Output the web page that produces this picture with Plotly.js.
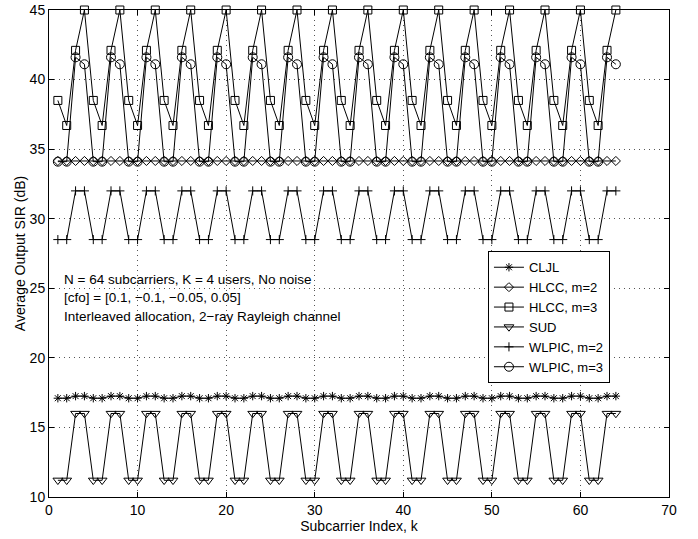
<!DOCTYPE html>
<html>
<head>
<meta charset="utf-8">
<script src="https://cdn.plot.ly/plotly-3.0.1.min.js"></script>
<style>
  html, body { margin: 0; padding: 0; background: #fff; }
  #chart { width: 698px; height: 539px; }
</style>
</head>
<body>
<div id="chart"></div>
<script>
// Subcarrier index
const subcarrier = [
  1, 2, 3, 4, 5, 6, 7, 8, 9, 10, 11, 12, 13, 14, 15, 16,
  17, 18, 19, 20, 21, 22, 23, 24, 25, 26, 27, 28, 29, 30, 31, 32,
  33, 34, 35, 36, 37, 38, 39, 40, 41, 42, 43, 44, 45, 46, 47, 48,
  49, 50, 51, 52, 53, 54, 55, 56, 57, 58, 59, 60, 61, 62, 63, 64
];

const cljl = [
  17.1, 17.1, 17.25, 17.25, 17.1, 17.1, 17.25, 17.25, 17.1, 17.1, 17.25, 17.25, 17.1, 17.1, 17.25, 17.25,
  17.1, 17.1, 17.25, 17.25, 17.1, 17.1, 17.25, 17.25, 17.1, 17.1, 17.25, 17.25, 17.1, 17.1, 17.25, 17.25,
  17.1, 17.1, 17.25, 17.25, 17.1, 17.1, 17.25, 17.25, 17.1, 17.1, 17.25, 17.25, 17.1, 17.1, 17.25, 17.25,
  17.1, 17.1, 17.25, 17.25, 17.1, 17.1, 17.25, 17.25, 17.1, 17.1, 17.25, 17.25, 17.1, 17.1, 17.25, 17.25
];

const hlccM2 = [
  34.15, 34.15, 34.15, 34.15, 34.15, 34.15, 34.15, 34.15, 34.15, 34.15, 34.15, 34.15, 34.15, 34.15, 34.15, 34.15,
  34.15, 34.15, 34.15, 34.15, 34.15, 34.15, 34.15, 34.15, 34.15, 34.15, 34.15, 34.15, 34.15, 34.15, 34.15, 34.15,
  34.15, 34.15, 34.15, 34.15, 34.15, 34.15, 34.15, 34.15, 34.15, 34.15, 34.15, 34.15, 34.15, 34.15, 34.15, 34.15,
  34.15, 34.15, 34.15, 34.15, 34.15, 34.15, 34.15, 34.15, 34.15, 34.15, 34.15, 34.15, 34.15, 34.15, 34.15, 34.15
];

const hlccM3 = [
  38.5, 36.7, 42.1, 45.0, 38.5, 36.7, 42.1, 45.0, 38.5, 36.7, 42.1, 45.0, 38.5, 36.7, 42.1, 45.0,
  38.5, 36.7, 42.1, 45.0, 38.5, 36.7, 42.1, 45.0, 38.5, 36.7, 42.1, 45.0, 38.5, 36.7, 42.1, 45.0,
  38.5, 36.7, 42.1, 45.0, 38.5, 36.7, 42.1, 45.0, 38.5, 36.7, 42.1, 45.0, 38.5, 36.7, 42.1, 45.0,
  38.5, 36.7, 42.1, 45.0, 38.5, 36.7, 42.1, 45.0, 38.5, 36.7, 42.1, 45.0, 38.5, 36.7, 42.1, 45.0
];

const sud = [
  11.2, 11.2, 16.0, 16.0, 11.2, 11.2, 16.0, 16.0, 11.2, 11.2, 16.0, 16.0, 11.2, 11.2, 16.0, 16.0,
  11.2, 11.2, 16.0, 16.0, 11.2, 11.2, 16.0, 16.0, 11.2, 11.2, 16.0, 16.0, 11.2, 11.2, 16.0, 16.0,
  11.2, 11.2, 16.0, 16.0, 11.2, 11.2, 16.0, 16.0, 11.2, 11.2, 16.0, 16.0, 11.2, 11.2, 16.0, 16.0,
  11.2, 11.2, 16.0, 16.0, 11.2, 11.2, 16.0, 16.0, 11.2, 11.2, 16.0, 16.0, 11.2, 11.2, 16.0, 16.0
];

const wlpicM2 = [
  28.5, 28.5, 32.0, 32.0, 28.5, 28.5, 32.0, 32.0, 28.5, 28.5, 32.0, 32.0, 28.5, 28.5, 32.0, 32.0,
  28.5, 28.5, 32.0, 32.0, 28.5, 28.5, 32.0, 32.0, 28.5, 28.5, 32.0, 32.0, 28.5, 28.5, 32.0, 32.0,
  28.5, 28.5, 32.0, 32.0, 28.5, 28.5, 32.0, 32.0, 28.5, 28.5, 32.0, 32.0, 28.5, 28.5, 32.0, 32.0,
  28.5, 28.5, 32.0, 32.0, 28.5, 28.5, 32.0, 32.0, 28.5, 28.5, 32.0, 32.0, 28.5, 28.5, 32.0, 32.0
];

const wlpicM3 = [
  34.1, 34.1, 41.6, 41.1, 34.1, 34.1, 41.6, 41.1, 34.1, 34.1, 41.6, 41.1, 34.1, 34.1, 41.6, 41.1,
  34.1, 34.1, 41.6, 41.1, 34.1, 34.1, 41.6, 41.1, 34.1, 34.1, 41.6, 41.1, 34.1, 34.1, 41.6, 41.1,
  34.1, 34.1, 41.6, 41.1, 34.1, 34.1, 41.6, 41.1, 34.1, 34.1, 41.6, 41.1, 34.1, 34.1, 41.6, 41.1,
  34.1, 34.1, 41.6, 41.1, 34.1, 34.1, 41.6, 41.1, 34.1, 34.1, 41.6, 41.1, 34.1, 34.1, 41.6, 41.1
];

const seriesNames = ['CLJL', 'HLCC, m=2', 'HLCC, m=3', 'SUD', 'WLPIC, m=2', 'WLPIC, m=3'];
const seriesData = [cljl, hlccM2, hlccM3, sud, wlpicM2, wlpicM3];
const seriesSymbols = ['asterisk-open', 'diamond-open', 'square-open', 'triangle-down-open', 'cross-thin-open', 'circle-open'];
const seriesSizes = [7, 7, 8, 8.5, 6.5, 9];

const noteLines = [
  'N = 64 subcarriers, K = 4 users, No noise',
  '[cfo] = [0.1, \u22120.1, \u22120.05, 0.05]',
  'Interleaved allocation, 2\u2212ray Rayleigh channel'
];
const noteY = [25.65, 24.35, 23.0];

const xTicks = [0, 10, 20, 30, 40, 50, 60, 70];
const yTicks = [10, 15, 20, 25, 30, 35, 40, 45];

const FONT = 'Liberation Sans, Arial, Helvetica, sans-serif';

const traces = seriesNames.map((name, i) => ({
  type: 'scatter',
  mode: 'lines+markers',
  name: name,
  x: subcarrier,
  y: seriesData[i],
  cliponaxis: false,
  line: { color: '#000', width: 1 },
  marker: {
    symbol: seriesSymbols[i],
    size: seriesSizes[i],
    color: '#000',
    line: { color: '#000', width: 1 }
  }
}));

const axisCommon = {
  showline: true,
  linecolor: '#000',
  linewidth: 1,
  mirror: 'ticks',
  ticks: 'inside',
  ticklen: 5,
  tickcolor: '#000',
  tickwidth: 1,
  showgrid: true,
  gridcolor: '#555',
  gridwidth: 1,
  griddash: '1px,4px',
  zeroline: false,
  tickfont: { family: FONT, size: 14, color: '#000' },
  automargin: false
};

const layout = {
  width: 698,
  height: 539,
  paper_bgcolor: '#fff',
  plot_bgcolor: '#fff',
  margin: { l: 49, r: 29, t: 10, b: 42 },
  showlegend: true,
  font: { family: FONT, size: 13, color: '#000' },
  xaxis: Object.assign({}, axisCommon, {
    range: [0, 70],
    tickvals: xTicks,
    ticktext: xTicks.map(String),
    title: { text: 'Subcarrier Index, k', font: { family: FONT, size: 14, color: '#000' }, standoff: 0 }
  }),
  yaxis: Object.assign({}, axisCommon, {
    range: [10, 45],
    tickvals: yTicks,
    ticktext: yTicks.map(String),
    title: { text: 'Average Output SIR (dB)', font: { family: FONT, size: 14, color: '#000' }, standoff: 0 }
  }),
  legend: {
    x: 0.708,
    y: 0.369,
    xanchor: 'left',
    yanchor: 'middle',
    bgcolor: '#fff',
    bordercolor: '#000',
    borderwidth: 1,
    font: { family: FONT, size: 13, color: '#000' },
    tracegroupgap: 0
  },
  annotations: noteLines.map((t, i) => ({
    x: 1.5,
    y: noteY[i],
    xref: 'x',
    yref: 'y',
    text: t,
    showarrow: false,
    xanchor: 'left',
    yanchor: 'middle',
    font: { family: FONT, size: 13.5, color: '#000' }
  }))
};

Plotly.newPlot('chart', traces, layout, { displayModeBar: false, staticPlot: true });
</script>
</body>
</html>
